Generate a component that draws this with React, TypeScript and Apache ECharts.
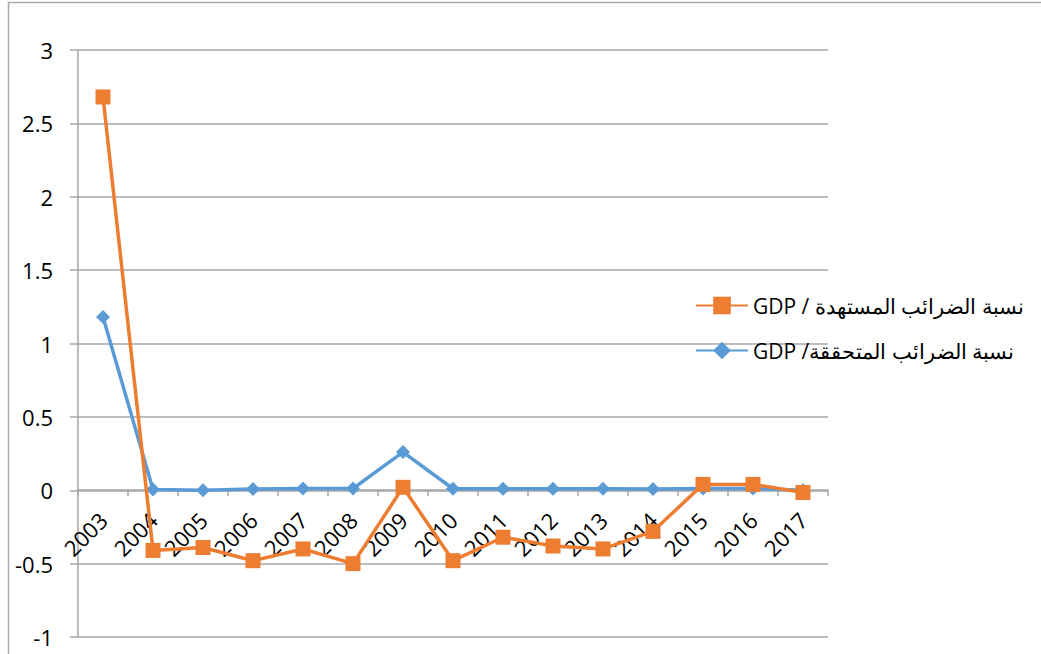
import React, { useEffect, useRef } from "react";
import * as echarts from "echarts";

const categories = ["2003","2004","2005","2006","2007","2008","2009","2010","2011","2012","2013","2014","2015","2016","2017"];
const targetRatio = [2.68,-0.41,-0.39,-0.48,-0.4,-0.5,0.02,-0.48,-0.32,-0.38,-0.4,-0.28,0.04,0.04,-0.015];
const actualRatio = [1.18,0.005,0.0,0.008,0.012,0.012,0.26,0.01,0.01,0.01,0.01,0.008,0.012,0.012,0.0];
const seriesNames = ["GDP / نسبة الضرائب المستهدة", "GDP /نسبة الضرائب المتحققة"];

export default function App() {
  const ref = useRef<HTMLDivElement>(null);
  useEffect(() => {
    const chart = echarts.init(ref.current!, undefined, { renderer: "svg" });
    const font = "'Open Sans', 'Noto Sans', sans-serif";
    chart.setOption({
      animation: false,
      graphic: [
        {
          type: "rect",
          shape: { x: 8.5, y: 2.5, width: 1040, height: 700 },
          style: { fill: "none", stroke: "#aaaaaa", lineWidth: 1.5 },
          silent: true,
        },
      ],
      grid: { left: 78, top: 50, right: 213, bottom: 17, containLabel: false, outerBoundsMode: "none" },
      legend: {
        orient: "vertical",
        left: 690,
        top: 290,
        itemGap: 24,
        itemWidth: 52,
        itemHeight: 22,
        textStyle: { fontSize: 21, color: "#000", fontFamily: font },
        data: [seriesNames[0], seriesNames[1]],
      },
      xAxis: {
        type: "category",
        data: categories,
        boundaryGap: true,
        position: "bottom",
        offset: -147,
        axisLine: { onZero: false, lineStyle: { color: "#a6a6a6", width: 1.5 } },
        axisTick: { show: true, length: 6, lineStyle: { color: "#a6a6a6", width: 1.5 } },
        axisLabel: { rotate: 45, margin: 26, fontSize: 22, color: "#000", fontFamily: font, interval: 0 },
        splitLine: { show: false },
        z: 2,
      },
      yAxis: {
        type: "value",
        min: -1,
        max: 3,
        interval: 0.5,
        axisLine: { show: true, onZero: false, lineStyle: { color: "#a6a6a6", width: 1.5 } },
        axisTick: { show: true, length: 8, lineStyle: { color: "#a6a6a6", width: 1.5 } },
        axisLabel: { margin: 25, fontSize: 22, color: "#000", fontFamily: font },
        splitLine: { show: true, lineStyle: { color: "#a6a6a6", width: 1.5 } },
      },
      series: [
        {
          name: seriesNames[0],
          type: "line",
          data: targetRatio,
          symbol: "rect",
          symbolSize: 15,
          lineStyle: { color: "#ED7D31", width: 3.5 },
          itemStyle: { color: "#ED7D31" },
          z: 4,
        },
        {
          name: seriesNames[1],
          type: "line",
          data: actualRatio,
          symbol: "diamond",
          symbolSize: 14,
          lineStyle: { color: "#5B9BD5", width: 3.5 },
          itemStyle: { color: "#5B9BD5" },
          z: 3,
        },
      ],
    });
    return () => chart.dispose();
  }, []);
  return (
    <div
      ref={ref}
      style={{ position: "absolute", left: 0, top: 0, width: 1041, height: 654, background: "#fff" }}
    />
  );
}
